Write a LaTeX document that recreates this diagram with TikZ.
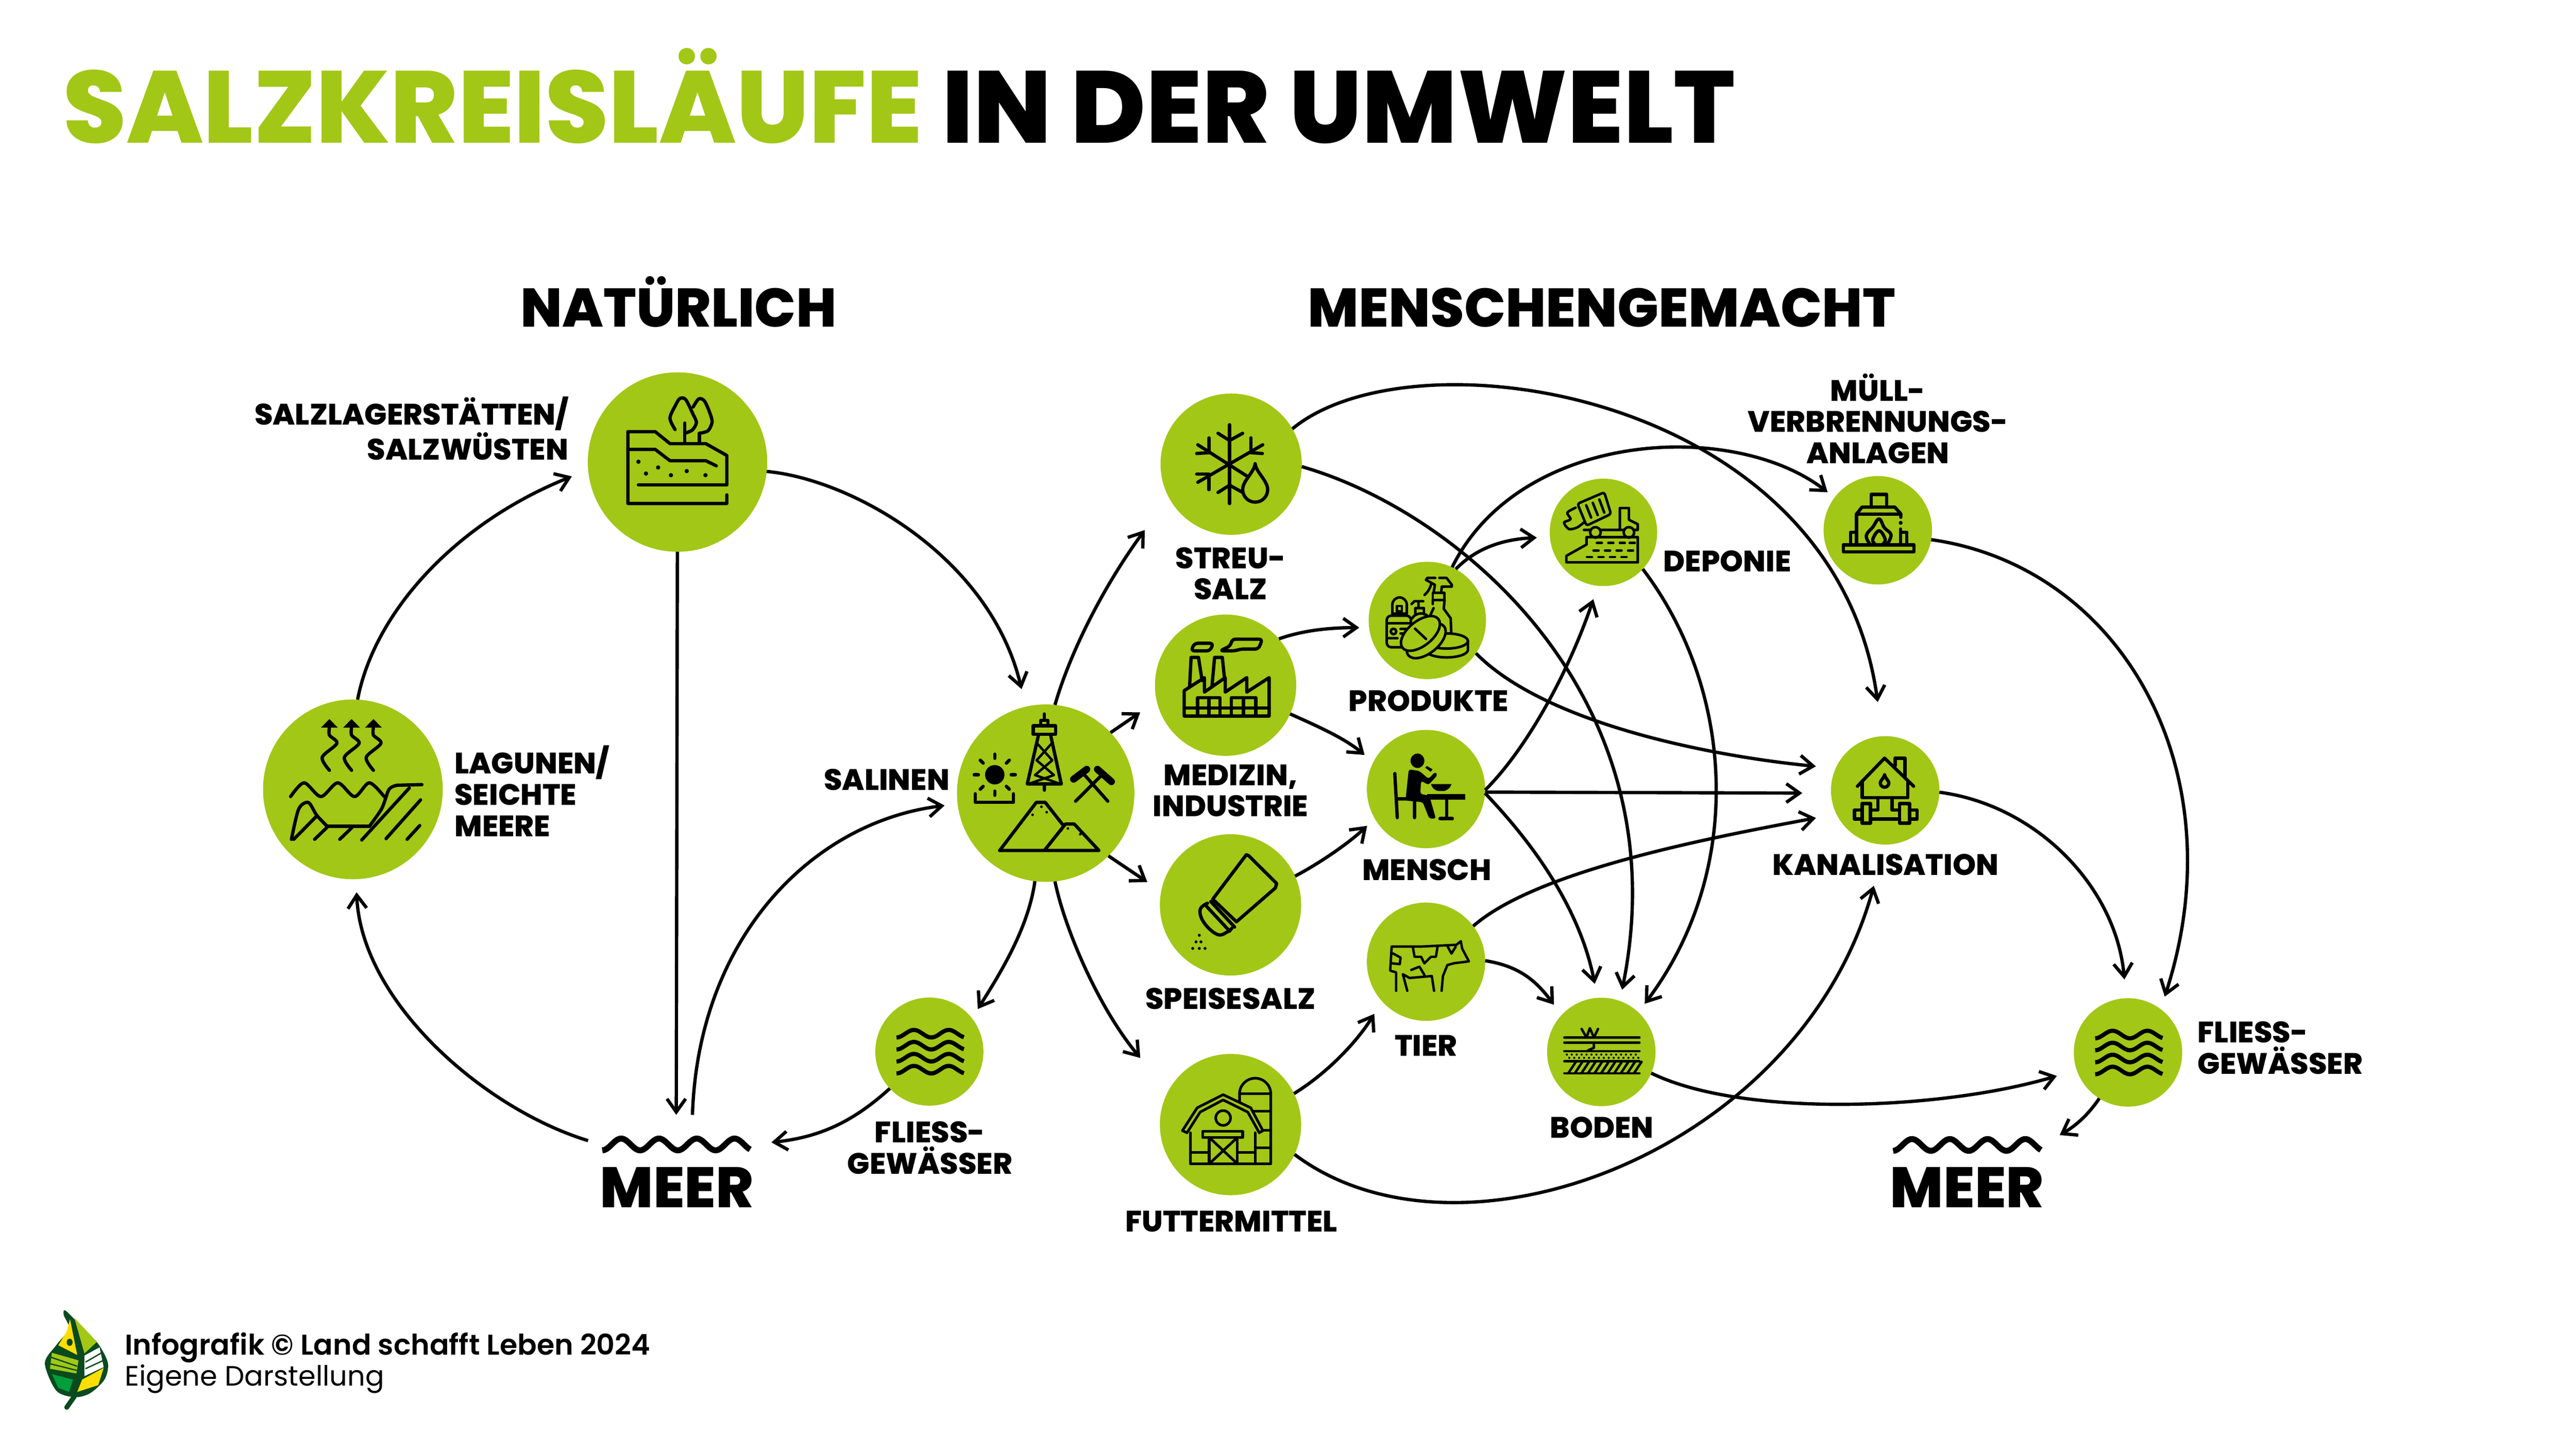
\documentclass[tikz,border=0pt]{standalone}
\usepackage{fontspec}
\setmainfont{Poppins}
\newfontfamily\heavyfont{Poppins ExtraBold}
\newfontfamily\semifont{Poppins SemiBold}
\usetikzlibrary{arrows.meta}
\definecolor{saltgreen}{RGB}{162,199,22}
\definecolor{leafdark}{RGB}{10,74,31}
\definecolor{leafyellow}{RGB}{255,222,0}
\definecolor{leafmid}{RGB}{0,159,60}
\tikzset{
  stat/.style={circle,fill=saltgreen,inner sep=0pt,outer sep=0pt,minimum size=#1*1.4948pt},
  wavebox/.style={inner sep=0pt,outer sep=0pt,minimum width=68.8pt,minimum height=9pt},
  lbl/.style={inner sep=0pt,outer sep=0pt,align=center,font=\heavyfont\fontsize{13.45}{14.2}\selectfont},
  big/.style={inner sep=0pt,outer sep=0pt,font=\heavyfont\fontsize{#1}{27}\selectfont},
  flow/.style={->,>={Straight Barb[length=6pt,width=8.5pt]},line width=1.5pt},
  gap/.style={shorten >=#1*0.7474pt},
  startgap/.style={shorten <=#1*0.7474pt},
  glyph/.style={line width=1.5pt,line cap=round,line join=round},
  waterlines/.pic={\foreach \rowy in {-11,-3.7,3.6,10.9}{\draw [line width=1.9pt] plot [domain=-20:21,samples=40] (\x,{\rowy-2.3*cos(17*(\x+20))});}},
  seawave/.pic={\draw [line width=2.7pt] plot [domain=-45:45,samples=70] (\x,{-3.6*cos(15.65*(\x+45))});}
}
\begin{document}
\begin{tikzpicture}[x=0.7474pt,y=0.7474pt,yscale=-1,xscale=1]
\fill [white] (0,0) rectangle (1568,882.35);
\useasboundingbox (0,0) rectangle (1568,882.35);

% Title
\draw (38,87) node [anchor=base west,inner sep=0pt] (title) {\heavyfont\fontsize{46.5}{50}\selectfont\textcolor{saltgreen}{SALZKREISLÄUFE} IN DER UMWELT};
\draw (413,199) node [anchor=base,big=24.8] (headNatur) {NATÜRLICH};
\draw (975,199) node [anchor=base,big=24.8] (headMensch) {MENSCHENGEMACHT};

% Circles
\draw (412.4,281.2) node [stat=54.6] (lager) {};
\draw (214.8,480.4) node [stat=54.7] (lagunen) {};
\draw (636.5,482.7) node [stat=54] (salinen) {};
\draw (749.4,282.5) node [stat=43] (streu) {};
\draw (746,417) node [stat=43] (medizin) {};
\draw (868.8,377.6) node [stat=35.7] (produkte) {};
\draw (868,480.2) node [stat=36] (mensch) {};
\draw (976,324) node [stat=32.7] (deponie) {};
\draw (1143,322.7) node [stat=33] (muell) {};
\draw (749,550.7) node [stat=43] (speise) {};
\draw (868,585.3) node [stat=36] (tier) {};
\draw (749,684.4) node [stat=43] (futter) {};
\draw (565.7,640) node [stat=32.9] (fliessA) {};
\draw (974.7,640.2) node [stat=33] (boden) {};
\draw (1147.5,481) node [stat=33] (kanal) {};
\draw (1295.3,640.5) node [stat=33] (fliessB) {};
\draw (411.6,696.5) node [wavebox] (waveA) {};
\draw (1197.3,696.8) node [wavebox] (waveB) {};

% Text Node
\draw (346,280) node [anchor=base east,lbl,align=right] (lblLager) {SALZLAGERSTÄTTEN/\\SALZWÜSTEN};
\draw (276.7,509) node [anchor=base west,lbl,align=left] (lblLagunen) {LAGUNEN/\\SEICHTE\\MEERE};
\draw (578,481) node [anchor=base east,lbl] (lblSalinen) {SALINEN};
\draw (749,365) node [anchor=base,lbl] (lblStreu) {STREU-\\SALZ};
\draw (749,497) node [anchor=base,lbl] (lblMedizin) {MEDIZIN,\\INDUSTRIE};
\draw (749,614.2) node [anchor=base,lbl] (lblSpeise) {SPEISESALZ};
\draw (749.5,749.7) node [anchor=base,lbl] (lblFutter) {FUTTERMITTEL};
\draw (869.6,433) node [anchor=base,lbl] (lblProdukte) {PRODUKTE};
\draw (868.5,535.8) node [anchor=base,lbl] (lblMensch) {MENSCH};
\draw (868,642.6) node [anchor=base,lbl] (lblTier) {TIER};
\draw (1012.5,348) node [anchor=base west,lbl] (lblDeponie) {DEPONIE};
\draw (1143,282) node [anchor=base,lbl] (lblMuell) {MÜLL-\\VERBRENNUNGS-\\ANLAGEN};
\draw (1147.8,532.6) node [anchor=base,lbl] (lblKanal) {KANALISATION};
\draw (975,692.7) node [anchor=base,lbl] (lblBoden) {BODEN};
\draw (1337.7,653.6) node [anchor=base west,lbl,align=left] (lblFliessB) {FLIESS-\\GEWÄSSER};
\draw (566,714.5) node [anchor=base,lbl] (lblFliessA) {FLIESS-\\GEWÄSSER};
\draw (412,735) node [anchor=base,big=26] (lblMeerA) {MEER};
\draw (1197.3,734.8) node [anchor=base,big=26] (lblMeerB) {MEER};

% Water
\path (waveA) pic {seawave};
\path (waveB) pic {seawave};
\path (fliessA) pic {waterlines};
\path (fliessB) pic {waterlines};

% Icon: Lager
\begin{scope}[shift={(412.4,281.2)},glyph]
\draw (30,20) -- (30,25.2) -- (-30.2,25.2) -- (-30.2,-18.5) -- (-13.6,-18.5) -- (-4.6,-11.2) -- (17.2,-11.2) -- (30,-4) -- (30,13.9) -- (-23.8,13.9);
\draw (-30.2,-7.7) -- (-13.6,-7.7) -- (-4.6,-0.8) -- (17.2,-0.8) -- (23.6,2.3);
\foreach \dotx/\doty in {-23.8/-.2,-19.2/7,-11.8/3.3,-4/8,5.6/5.5,17/8} \fill (\dotx,\doty) circle (1.3);
\draw (4.4,-23.7) -- (4.4,-11.2);
\draw plot [smooth] coordinates {(-1.5,-19.8) (-4.6,-26.8) (-1,-35) (1.5,-38.7) (5,-38) (9.5,-29) (11.5,-24) (9,-19.5) (4.4,-17.5)};
\draw (13.3,-17.5) -- (13.3,-11.2);
\draw plot [smooth] coordinates {(9.5,-33.5) (13,-38.5) (16.5,-37) (20,-29) (21,-24) (18.5,-19) (13.3,-17.5)};
\end{scope}

% Icon: Lagunen
\begin{scope}[shift={(214.8,480.4)},glyph]
\foreach \ax in {-14.3,-.8,12.5}{
\fill (\ax,-42.8) -- (\ax+5.1,-37.6) -- (\ax-5.1,-37.6) -- cycle;
\draw plot [smooth] coordinates {(\ax,-37.6) (\ax,-33) (\ax+4.6,-28) (\ax-4.4,-19.5) (\ax,-11.6)};
}
\draw plot [smooth] coordinates {(-37.9,4.4) (-29.7,-4) (-19.5,4.4) (-9.2,-4) (1,4.4) (10,-4) (19,4.4)};
\draw plot [smooth,tension=.5] coordinates {(-37.4,30.4) (-33,12) (-27.1,8) (-22,15.8) (-15.6,22.5)};
\draw (-15.6,22.5) -- (10,22.5);
\draw plot [smooth,tension=.5] coordinates {(10,22.5) (17.6,11.6) (22,0) (27,-2.5)};
\draw (27,-2.5) -- (42,-2.9);
\draw (-36,30.4) -- (-22,16.2) (-23.3,30.4) -- (-15.6,23) (-8,30.4) -- (-.3,23) (5.4,30.8) -- (34.3,-.8) (20.2,30) -- (41.2,6.4) (33,30.4) -- (40.7,22);
\end{scope}

% Icon: Salinen
\begin{scope}[shift={(636.5,482.7)},glyph]
\draw (-7.6,-41) rectangle (6,-35.8);
\draw (-3,-41) -- (-3,-44.3) -- (1.4,-44.3) -- (1.4,-41) (-.8,-48.2) -- (-.8,-44.3);
\draw (-4.4,-35.3) -- (-11.2,-5.6) -- (9.5,-5.6) -- (3,-35.3) (-.8,-5.6) -- (-.8,-1.8);
\draw [line width=1.1pt] (-5,-30) -- (4,-20) -- (-6.5,-11) -- (9,-5.6) (3.4,-30) -- (-5.5,-20) -- (5,-11) -- (-10.5,-5.6);
\fill (-31,-11.2) circle (5.9);
\foreach \ang in {0,45,...,315} \draw [rotate around={\ang:(-31,-11.2)}] (-21,-11.2) -- (-18.5,-11.2);
\draw (-42.8,.4) -- (-42.8,5.6) -- (-19.6,5.6) -- (-19.6,.4);
\draw (18.2,4.9) -- (35,-11.9) (37.8,4.9) -- (22.9,-11.9);
\draw [line width=3.2pt] (17,-8.5) -- (25,-14.5) (31.5,-14.5) -- (40,-7);
\draw (-28,34.9) -- (-5.7,5.6) -- (-.3,5.6) -- (10.6,19.5);
\draw (-28,34.9) -- (32.4,34.9) -- (17.4,18.8) -- (12,18.8) -- (-.8,34.9);
\fill (-2.6,8.3) circle (.8) (.6,11.6) circle (.8) (-8,13.2) circle (.8) (13.5,21.5) circle (.8) (21,25) circle (.8) (9.5,22.7) circle (.8);
\end{scope}

% Icon: Streu
\begin{scope}[shift={(749.4,282.5)},glyph]
\draw (-1,-24) -- (-1,24);
\draw (-20.3,-11.8) -- (18.3,12.8) (-20.3,11) -- (19.2,-11.8);
\draw (-8,-18.8) -- (-1,-14.4) -- (7,-18.8) (-8,17.2) -- (-1,12.8) -- (7,17.2);
\draw (-13.5,-16) -- (-13.5,-7) -- (-21,-6.5) (12,-16) -- (12,-7) -- (19,-6.5);
\draw (-13.5,15.5) -- (-13.5,6) -- (-21,6);
\draw [fill=saltgreen] (14.6,-.3) .. controls (14,5) and (7,10) .. (7,15.5) arc (180:0:7.6) .. controls (22.2,10) and (15.2,5) .. cycle;
\end{scope}

% Icon: Medizin
\begin{scope}[shift={(746,417)},glyph]
\draw (-25.2,3.3) -- (-12.9,-4.6) -- (-12.9,4.2) -- (-.2,-4.6) -- (-.2,4.2) -- (12.9,-4.6) -- (12.9,4.2) -- (26.5,-4.6) -- (26.5,18.8) -- (-25.2,18.8) -- cycle;
\draw (-25.2,13.9) -- (26.5,13.9);
\draw (-17,18.8) -- (-17,7.7) -- (-3.4,7.7) -- (-3.4,18.8) (-10.2,7.7) -- (-10.2,18.8);
\draw (3.4,18.8) -- (3.4,7.7) -- (18.4,7.7) -- (18.4,18.8) (10.9,7.7) -- (10.9,18.8);
\draw (-21.9,.7) -- (-21,-16.9) -- (-16.5,-16.9) -- (-14.3,-2.8) (-8.3,.7) -- (-6.7,-16.9) -- (-2,-16.9) -- (-.7,-4.6);
\draw [rounded corners=1.5] (-21,-20.9) -- (-19,-25.5) -- (-7.5,-25.5) -- (-9.5,-20.9) -- cycle;
\draw [rounded corners=1.5] (-3.4,-20.9) -- (3,-24) -- (4,-28) -- (22.4,-28) -- (20,-22) -- (9,-22) -- (6,-20.9) -- cycle;
\end{scope}

% Icon: Produkte
\begin{scope}[shift={(868.8,377.6)},line width=1.15pt,line cap=round,line join=round]
\draw (-.8,-24.7) -- (0,-25.9) -- (4.8,-25.9) (7.3,-25.9) -- (11.7,-25.9) -- (14.9,-21.7) -- (14.9,-20.6) -- (8.8,-20.6) -- (8.4,-16.7);
\draw (-.8,-24.7) -- (4.6,-21.7) -- (3.8,-16.7) (2.5,-22.6) .. controls (1.5,-19) and (0,-17) .. (-1.7,-15.5);
\draw (3.3,-16.7) rectangle (10.5,-12.5);
\draw (3.3,-12.5) -- (3.3,-10) (3.8,-7.5) -- (1.7,-2.9) (10.5,-12.5) -- (10,-7.1) -- (14.2,-1.3) -- (14.6,8);
\draw (-9.6,-10) -- (-7.9,-11.7) -- (-2.5,-11.7) (-5.4,-11.7) -- (-5.4,-7.5) (-7.3,-3.8) -- (-7.3,-7.5) -- (-2.1,-7.5) -- (-2.1,-3.8);
\draw (-9.2,-1.3) .. controls (-8,-4) and (-3,-5.5) .. (0,-2.9);
\draw [rounded corners=2] (-24.7,-2.9) rectangle (-10,16.3);
\draw (-24.7,1.7) -- (-10,1.7) (-21.3,-4.2) -- (-21.3,-9.6) arc (180:360:4.4) -- (-12.5,-4.2) (-21.3,-4.2) -- (-12.5,-4.2);
\draw (-18.6,-8.8) rectangle (-15.5,-5.4);
\draw (-20.6,6.7) circle (1.7);
\draw (-16.3,5.2) -- (-11.7,5.2) (-16.3,8) -- (-12.5,8) (-23.4,10.9) -- (-18.2,10.9);
\draw [fill=saltgreen] (-1.3,12.5) arc (180:360:13 and 4.6) -- (24.7,17.9) arc (0:180:13 and 4.6) -- cycle;
\draw (-1.3,12.5) arc (180:0:13 and 4.6);
\draw [rotate around={-39:(-.7,12.4)},fill=saltgreen] (-.7,12.4) ellipse (14 and 7.5);
\draw [rotate around={-39:(-4.2,7.9)},fill=saltgreen] (-4.2,7.9) ellipse (14 and 7.5);
\draw (-7.5,5) -- (-.8,11.3);
\end{scope}

% Icon: Deponie
\begin{scope}[shift={(976,324)},glyph,line width=1.15pt]
\draw [rounded corners=1] (-15.8,-17.4) -- (.5,-24.4) -- (4.6,-11.2) -- (-10.3,-4.1) -- cycle;
\draw (-10.5,-16.5) -- (-7.5,-9) (-6.5,-18) -- (-3.5,-10.5) (-2.5,-20) -- (.5,-12);
\draw (-11.9,-1.5) -- (20.9,-1.5) -- (20.9,-5) -- (15.5,-7.7) -- (15.5,-14.8) -- (10,-14.8) -- (10,-1.5);
\draw [fill=saltgreen] (-4.9,0) circle (3.2) (15.5,0) circle (3.2);
\draw plot [smooth] coordinates {(-17,-15) (-22,-12) (-20,-8) (-24,-6) (-21,-2) (-16,-3) (-12,-6)};
\draw (-10.3,7.4) -- (-10.3,2.9) -- (20.9,2.9) -- (20.9,18.2) -- (-22.6,18.2) -- (-22.6,14.3) -- (-10.3,7.4);
\foreach \dotx/\doty in {-4/6.5,3/6.5,10/6.5,16/6.5,-6/11,1/11,8/11,15/11,-10/15,-3/15,4/15,11/15} \draw (\dotx,\doty) -- (\dotx+3,\doty);
\end{scope}

% Icon: Muell
\begin{scope}[shift={(1143,322.7)},glyph]
\draw (-4,-14.4) -- (-4,-21.8) -- (5.3,-21.8) -- (5.3,-14.4);
\draw (14,-9.8) -- (-13,-9.8) -- (-9.6,-14.1) -- (10.3,-14.1) -- (14,-10) -- (14,-7.9);
\fill (13.9,-4.5) circle (1.2);
\draw (-13,-9.8) -- (-13,8.9) (13.9,-.7) -- (13.9,8.9);
\draw (-16.6,8.9) -- (-16.6,1.2) -- (-13,1.2) (13.9,1.2) -- (17.6,1.2) -- (17.6,8.9);
\draw (-21,8.9) rectangle (22,13.2);
\draw plot [smooth,tension=.7] coordinates {(-4.8,8.5) (-7,3.2) (-3,-2) (.8,-6.9) (4,-1.5) (8,2.7) (5.8,8.5)};
\draw plot [smooth,tension=.7] coordinates {(-1.5,8.5) (-3.1,5.6) (.8,.3) (4.5,5.6) (3,8.5)};
\end{scope}

% Icon: Mensch
\begin{scope}[shift={(868,480.2)},glyph]
\fill (-5.2,-17.2) ellipse (4.2 and 4.4);
\fill [rounded corners=1] (-10.5,-12) -- (-4,-11) -- (1.5,-6.2) -- (5.7,-10.5) -- (7,-8.5) -- (1.5,-2.5) -- (-3,-5) -- (-3.5,3) -- (2,4) -- (6,18) -- (2,18) -- (-2,8) -- (-12.5,7) -- cycle;
\fill (.5,-14) -- (4,-12) -- (2.8,-10.5) -- (-.5,-13) -- cycle;
\draw (-19,-9.4) -- (-17.5,17.4) (-17.5,6) -- (-7,6) (-7,6) -- (-7,17.4);
\fill (.8,2.9) rectangle (23.9,6.5);
\draw (12.5,6) -- (12.5,17.4) (8.5,18) -- (16,18);
\fill (3,-3) -- (15.5,-3) .. controls (14.5,0) and (12,1) .. (11,1.2) -- (7.5,1.2) .. controls (6,1) and (4,0) .. cycle;
\end{scope}

% Icon: Speise
\begin{scope}[shift={(749,550.7)},glyph]
\draw (-10.8,-3.5) -- (9.6,-30.5) -- (11,-30) -- (28.1,-13) -- (27.3,-10.3) -- (3.6,10.3) -- cycle;
\draw (-12,-2) -- (2.5,13.5);
\draw plot [smooth,tension=.7] coordinates {(-14,-1) (-18.5,3) (-16,11) (-8,18) (-2,16.5) (1,14)};
\draw (-14.5,1) -- (-.5,16);
\fill (-19,18.5) circle (.9) (-18,22.5) circle (.9) (-21,22.5) circle (.9) (-23,26.5) circle (.9) (-19,26.5) circle (.9) (-15.5,26.5) circle (.9);
\end{scope}

% Icon: Tier
\begin{scope}[shift={(868,585.3)},line width=1.1pt,line cap=round,line join=round]
\draw (-18.2,17.7) -- (-18.2,6.5) -- (-21.8,5.4) -- (-20.9,-9.2) -- (-3.3,-9.2) -- (18.5,-10.3) -- (21.2,-12.5) -- (22,-8) -- (26.1,-.2) -- (17.1,.9) -- (13,2) -- (10.3,8.7) -- (9.5,17.7);
\draw (4.9,17.7) -- (3.5,8.7) -- (-10,9.9) -- (-14.1,7.6) -- (-11.4,17.7);
\draw (-20,-5) -- (-15.5,-2.5) -- (-16,1.5) -- (-20.5,1) (-8,-9) -- (-7,-3) -- (-3,-3) -- (-1,1) -- (3,-3) -- (6,-3) -- (7,-9);
\draw (13,-9.5) -- (15.5,-5) -- (18,-9);
\draw (-9,5) -- (-4,3) -- (-1,8);
\end{scope}

% Icon: Futter
\begin{scope}[shift={(749,684.4)},glyph,line width=1.2pt]
\draw (5.5,-12) -- (5.5,-18.7) arc (180:360:9.5) -- (24.5,23.9) -- (-24.4,23.9) -- (-24.4,5);
\draw (5.5,-18.7) -- (24.5,-18.7) (12,-8) -- (24.5,-8) (17,3.5) -- (24.5,3.5) (15,14) -- (24.5,14) (15,5) -- (15,23.9) (-24.4,17) -- (-13,17) (4.2,17) -- (15,17);
\draw [fill=saltgreen] (-29.3,3.7) -- (-20.3,-10.2) -- (-4.5,-18.2) -- (12.3,-10.2) -- (19.7,3.7) -- (17.5,5) -- (10.5,-7.6) -- (-4.5,-15) -- (-18.5,-7.6) -- (-26.5,5) -- cycle;
\draw (-4.5,-4) circle (4.5);
\draw (-17,4.2) rectangle (7.4,7.8);
\draw (-13,7.8) rectangle (4.2,23.9);
\draw (-13,7.8) -- (4.2,23.9) (4.2,7.8) -- (-13,23.9);
\end{scope}

% Icon: Kanal
\begin{scope}[shift={(1147.5,481)},glyph]
\draw (-16.9,-2.5) -- (-.4,-19.6) -- (17.3,-2.5);
\draw (-14,-5.6) -- (-14,4.4) -- (13.7,4.4) -- (13.7,-5.6);
\draw (6,-15) -- (6,-19.6) -- (12,-19.6) -- (12,-8);
\draw (-.4,-9.5) .. controls (-1,-7) and (-3,-6) .. (-3,-4.5) arc (180:0:2.6) .. controls (2.2,-6) and (.2,-7) .. cycle;
\draw (-4.5,4.4) -- (-4.5,12) -- (-9,12) (4.2,4.4) -- (4.2,12) -- (8.8,12) (-9,17.5) -- (8.8,17.5);
\draw (-14,8) rectangle (-9,20);
\draw (8.8,8) rectangle (14.8,20);
\draw (-18.7,11.9) rectangle (-14,17.5);
\draw (14.8,11.9) rectangle (19.4,17.5);
\end{scope}

% Icon: Boden
\begin{scope}[shift={(974.7,640.2)},glyph,line width=1.1pt]
\draw (-22.5,-8.8) -- (23.2,-8.8) (-22.5,-5.7) -- (23.2,-5.7) (-22.5,-.5) -- (23.2,-.5) (-22.5,5.7) -- (23.2,5.7) (-22.5,13) -- (23.2,13);
\draw (-12,-14) -- (-9,-8.8) -- (-7,-14.5) -- (-4.5,-8.8) -- (-2,-14) (-4.5,-5.7) -- (-4.5,-2.5) -- (-8,-1);
\foreach \dotx in {-21,-18,...,22} \fill (\dotx,1.6) circle (.65) (\dotx+1.5,3.6) circle (.65);
\foreach \dotx in {-20,-16,...,20} \draw (\dotx,12.8) -- (\dotx+4.5,6);
\end{scope}

% Icon: Logo
\draw [leafdark,line width=2.2pt,line cap=round] (45.2,850) -- (40.6,856.5);
\fill [leafdark] plot [smooth cycle] coordinates {(40,797.7) (50.8,808.7) (59.8,817.9) (65.7,829.6) (63.6,839.6) (54.7,848) (45.2,850.3) (34.2,846.3) (27.3,829.6) (34.2,818.7) (41.9,808.7) (38.8,800.3)};
\fill [leafyellow] (42.6,802.8) -- (47,824.6) -- (35.5,818.7) -- (40.6,810.4) -- cycle;
\fill [saltgreen] (45.2,802) -- (59,816.6) -- (51.4,823.7) -- cycle;
\fill [leafdark] (42.4,816.9) ellipse (1.8 and 2.2);
\fill [white] (60.6,820) -- (63.1,832) -- (51.4,837.5) -- (51.4,825) -- cycle;
\draw [leafdark,line width=.6pt] (52,829) -- (62.4,823) (52,833) -- (62.8,828);
\fill [leafyellow] (63.1,832.5) -- (59.8,843) -- (47,847.1) -- (50,839.6) -- cycle;
\fill [saltgreen] (31.6,823.3) -- (47.8,827.9) -- (46.5,835.9) -- (30.4,833) -- cycle;
\draw [leafdark,line width=.6pt] (31,826) -- (47,831.5) (30.6,830) -- (46.7,834);
\fill [leafmid] (31.6,836.3) -- (44.4,839.6) -- (41.9,847.1) -- (35.5,844.6) -- cycle;

% Footer
\draw (75.7,824.6) node [anchor=base west,inner sep=0pt] (lblInfo) {\semifont\fontsize{13}{14}\selectfont Infografik © Land schafft Leben 2024};
\draw (75.7,843.4) node [anchor=base west,inner sep=0pt] (lblEigene) {\fontsize{12.7}{14}\selectfont Eigene Darstellung};

% Curve Lines: natuerlich
\draw [flow,gap=10.7] (lagunen.87) .. controls (228,372) and (278,318) .. (lager.185);
\draw [flow,gap=11] (lager.354) .. controls (520,292) and (603,340) .. (salinen.103);
\draw [flow,gap=12] (lager) -- (waveA);
\draw [flow,gap=8,startgap=12] ([xshift=7.1pt]waveA.north) .. controls (425,570) and (495,500) .. (salinen.187);
\draw [flow,gap=8,startgap=8] (waveA.west) .. controls (295,675) and (220,610) .. (lagunen.272);

% Curve Lines: aus den Salinen
\draw [flow,gap=24.7] (salinen.84) .. controls (652,395) and (673,355) .. (streu.208);
\draw [flow,gap=12.2] (salinen.43) -- (medizin.193);
\draw [flow,gap=10.2] (salinen.315) -- (speise.169);
\draw [flow,gap=26.5] (salinen.276) .. controls (648,565) and (668.4,613) .. (futter.152);
\draw [flow,gap=6.7] (salinen.263) .. controls (626,565) and (608.4,593) .. (fliessA.38);
\draw [flow,gap=12] (fliessA.223) .. controls (520,682) and (500,692) .. (waveA.east);

% Curve Lines: menschengemacht
\draw [flow,gap=21] (streu.30) .. controls (860,200) and (1117,238) .. (kanal.93);
\draw [flow,gap=7] (streu.358) .. controls (890,312) and (1023,426) .. (boden.70);
\draw [flow,gap=6] (medizin.41) .. controls (795,383) and (812,382) .. (produkte.187);
\draw [flow,gap=6.9] (medizin.336) .. controls (802,442) and (818,449) .. (mensch.153);
\draw [flow,gap=6.4] (speise.24) .. controls (802,526) and (820,514) .. (mensch.210);
\draw [flow,gap=9] (futter.26) .. controls (808,653) and (826,634) .. (tier.222);
\draw [flow,gap=26] (futter.335) .. controls (888,778) and (1095.6,702) .. (kanal.270);
\draw [flow,gap=8] (produkte.61) .. controls (900,332) and (918,328) .. (deponie.185);
\draw [flow,gap=5.3] (produkte.65) .. controls (925,262) and (1055,255) .. (muell.143);
\draw [flow,gap=12.1] (produkte.326) .. controls (940,440) and (1040,460) .. (kanal.156);
\draw [flow,gap=17.5] (mensch.357) -- (kanal.183);
\draw [flow,gap=8.6] (mensch.359) .. controls (930,455) and (955.4,407.5) .. (deponie.264);
\draw [flow,gap=8.7] (mensch.356) .. controls (930,510) and (961,550) .. (boden.94);
\draw [flow,gap=7.8] (tier.1) .. controls (925,588) and (935,597) .. (boden.137);
\draw [flow,gap=12.7] (tier.37) .. controls (935,530) and (1040,510) .. (kanal.206);
\draw [flow,gap=6.5] (deponie.317) .. controls (1056,420) and (1062,530) .. (boden.47);
\draw [flow,gap=8] (muell.350) .. controls (1292,345) and (1362,470) .. (fliessB.53);
\draw [flow,gap=11.5] (kanal.358) .. controls (1240,490) and (1288,540) .. (fliessB.92);
\draw [flow,gap=12.6] (boden.337) .. controls (1060,680) and (1180,676) .. (fliessB.199);
\draw [flow,gap=12] (fliessB.238) .. controls (1270,680) and (1262,686) .. (waveB.east);

\end{tikzpicture}
\end{document}
